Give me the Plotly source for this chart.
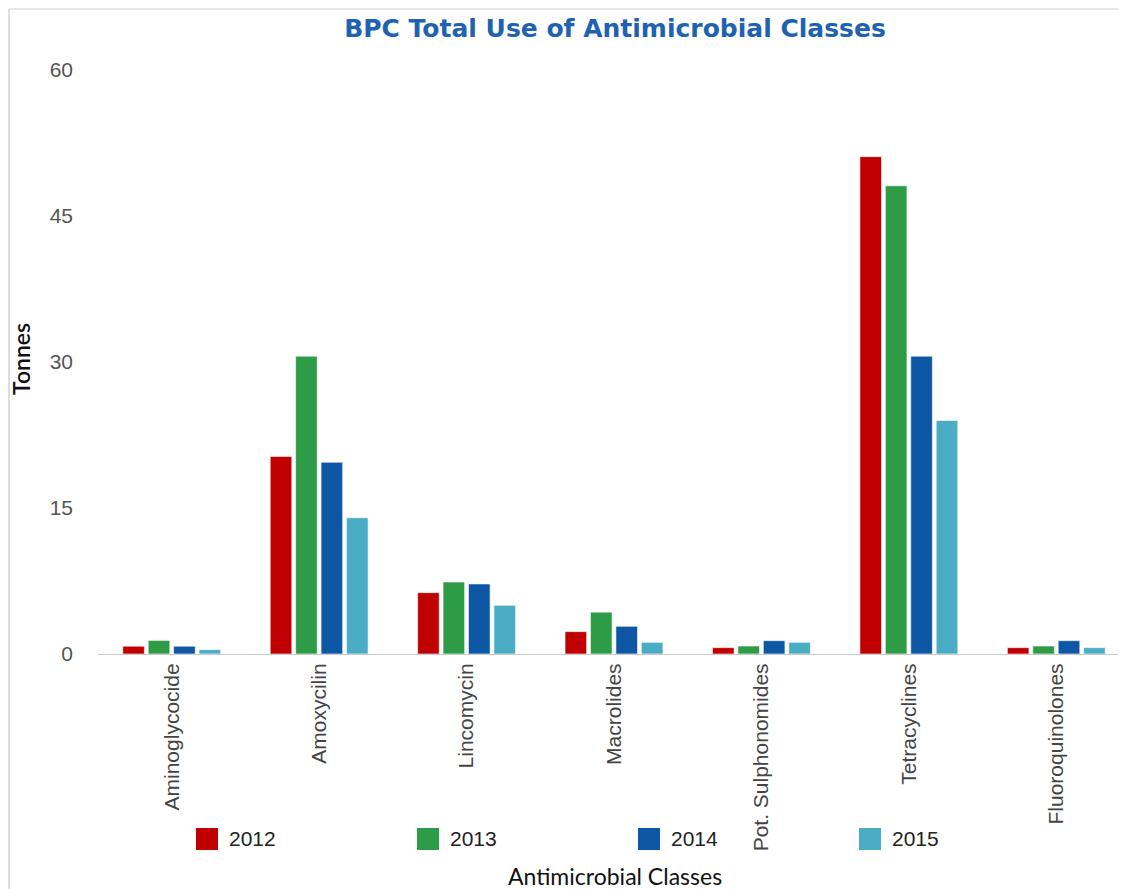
import plotly.graph_objects as go

categories = ["Aminoglycocide", "Amoxycilin", "Lincomycin", "Macrolides",
              "Pot. Sulphonomides", "Tetracyclines", "Fluoroquinolones"]
years = ["2012", "2013", "2014", "2015"]
v2012 = [0.8, 20.3, 6.3, 2.3, 0.65, 51.1, 0.65]
v2013 = [1.4, 30.6, 7.4, 4.3, 0.82, 48.1, 0.82]
v2014 = [0.8, 19.7, 7.2, 2.85, 1.37, 30.6, 1.37]
v2015 = [0.45, 14.0, 5.0, 1.2, 1.2, 24.0, 0.65]
colors = ["#C00000", "#2E9B47", "#0E57A5", "#4BACC6"]
y_ticks = [0, 15, 30, 45, 60]

# page body has an 8px margin; work in reference pixel coordinates
OFF = 8
W, H = 1126, 889 - OFF
PL, PR, PT, PB = 98, 1130, 70, 654          # plot area in reference pixels
L, T = PL - OFF, PT - OFF
R = W - (PR - OFF)
B = H - (PB - OFF)
pw = PR - PL
ph = PB - PT

def px_x(p):
    return (p - PL) / pw

def px_y(p):
    return (PB - p) / ph

fig = go.Figure()
for yr, vals, col in zip(years, [v2012, v2013, v2014, v2015], colors):
    fig.add_trace(go.Bar(
        x=categories, y=vals, name=yr,
        marker=dict(color=col, line=dict(color="rgba(255,255,255,0.6)", width=1)),
        showlegend=False,
    ))

tick_font = "'Liberation Sans', Arial, sans-serif"
shapes = [
    dict(type="line", xref="paper", yref="paper",
         x0=px_x(9), x1=px_x(9), y0=px_y(9), y1=px_y(889),
         line=dict(color="#dddddd", width=2)),
    dict(type="line", xref="paper", yref="paper",
         x0=px_x(9), x1=px_x(1126), y0=px_y(9), y1=px_y(9),
         line=dict(color="#e8e8e8", width=2)),
]
annotations = [
    dict(text="Antimicrobial Classes", xref="paper", yref="paper",
         x=px_x(615), y=px_y(876), xanchor="center", yanchor="middle",
         showarrow=False, font=dict(family="Lato, sans-serif", size=23, color="#111")),
    dict(text="Tonnes", xref="paper", yref="paper", textangle=-90,
         x=px_x(21), y=px_y(359), xanchor="center", yanchor="middle",
         showarrow=False, borderpad=0,
         font=dict(family="Lato, sans-serif", size=23, color="#111", weight=600)),
]
# custom legend (large square swatches)
leg_x = [196, 417, 638, 859]
for yr, col, lx in zip(years, colors, leg_x):
    shapes.append(dict(type="rect", xref="paper", yref="paper",
                       x0=px_x(lx), x1=px_x(lx + 22), y0=px_y(828), y1=px_y(850),
                       fillcolor=col, line=dict(width=0)))
    annotations.append(dict(text=yr, xref="paper", yref="paper",
                            x=px_x(lx + 31), y=px_y(839), xanchor="left", yanchor="middle",
                            showarrow=False,
                            font=dict(family=tick_font, size=21, color="#222")))

fig.update_layout(
    width=W, height=H,
    margin=dict(l=L, r=R, t=T, b=B, pad=0),
    paper_bgcolor="white", plot_bgcolor="white",
    font=dict(family=tick_font, size=21, color="#222"),
    barmode="group", bargap=0.31, bargroupgap=0.15,
    showlegend=False,
    title=dict(text="BPC Total Use of Antimicrobial Classes",
               x=px_x(615), xref="paper", xanchor="center",
               y=1 - (28 - OFF) / H, yref="container", yanchor="middle",
               font=dict(family="'DejaVu Sans', sans-serif", size=25, color="#2062B2",
                         weight="bold")),
    xaxis=dict(showgrid=False, showline=True, linecolor="#cccccc", linewidth=1,
               tickangle=-90, ticks="", ticklabelstandoff=0,
               tickfont=dict(family=tick_font, size=21, color="#444"), zeroline=False),
    yaxis=dict(range=[0, 60], tickvals=y_ticks, showgrid=False, showline=False,
               zeroline=False, ticks="", ticklabelstandoff=24,
               tickfont=dict(family=tick_font, size=21, color="#555")),
    annotations=annotations,
    shapes=shapes,
)

fig.write_html("out.html")
